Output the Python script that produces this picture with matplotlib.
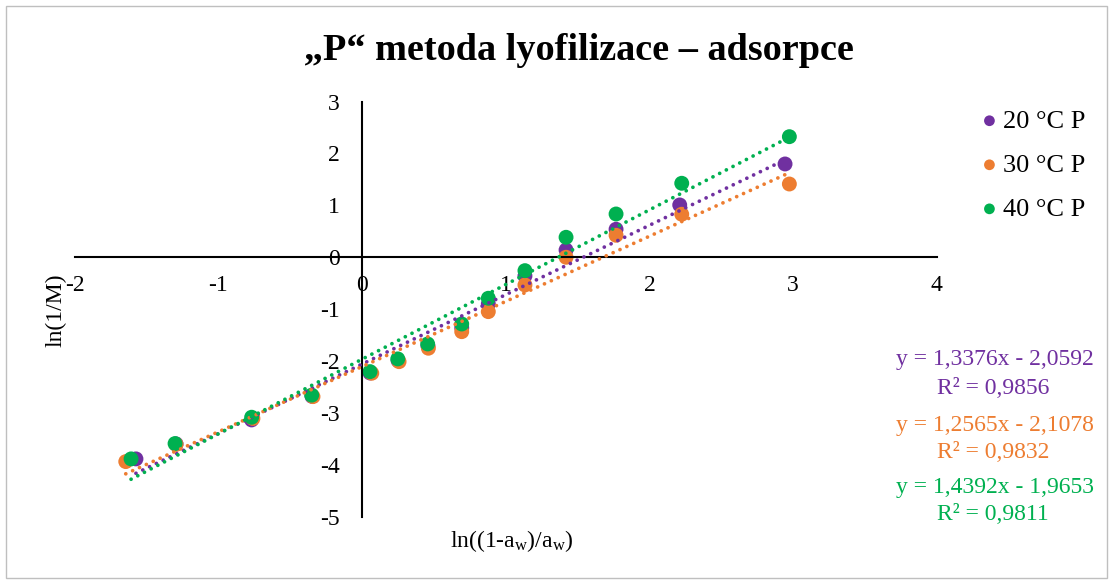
import matplotlib
matplotlib.use("Agg")
import matplotlib.pyplot as plt
from matplotlib.patches import Rectangle
import numpy as np

plt.rcParams['font.family'] = ['Liberation Serif', 'DejaVu Serif']
plt.rcParams['mathtext.fontset'] = 'custom'
plt.rcParams['mathtext.rm'] = 'Liberation Serif'
plt.rcParams['mathtext.it'] = 'Liberation Serif:italic'

# ---- data ----
series_names = ["20 °C P", "30 °C P", "40 °C P"]
colors = ["#7030A0", "#ED7D31", "#00B050"]

x20 = [-1.573, -1.294, -0.768, -0.348, 0.056, 0.251, 0.459, 0.694, 0.879, 1.134, 1.420, 1.768, 2.211, 2.944]
y20 = [-3.886, -3.597, -3.135, -2.680, -2.230, -1.990, -1.710, -1.360, -0.900, -0.360, 0.140, 0.540, 1.008, 1.798]

x30 = [-1.644, -1.294, -0.759, -0.341, 0.068, 0.258, 0.462, 0.694, 0.879, 1.134, 1.420, 1.768, 2.225, 2.974]
y30 = [-3.938, -3.607, -3.106, -2.686, -2.235, -2.012, -1.753, -1.434, -1.048, -0.534, 0.000, 0.424, 0.829, 1.412]

x40 = [-1.607, -1.301, -0.768, -0.350, 0.056, 0.249, 0.457, 0.694, 0.879, 1.134, 1.420, 1.768, 2.225, 2.974]
y40 = [-3.886, -3.590, -3.083, -2.657, -2.204, -1.959, -1.671, -1.286, -0.790, -0.258, 0.385, 0.834, 1.426, 2.324]

slopes = [1.3376, 1.2565, 1.4392]
intercepts = [-2.0592, -2.1078, -1.9653]
eq_texts = ["y = 1,3376x - 2,0592", "y = 1,2565x - 2,1078", "y = 1,4392x - 1,9653"]
r2_texts = ["R² = 0,9856", "R² = 0,9832", "R² = 0,9811"]

x_ticks = [-2, -1, 0, 1, 2, 3, 4]
y_ticks = [-5, -4, -3, -2, -1, 0, 1, 2, 3]

title = "\u201eP\u201c metoda lyofilizace \u2013 adsorpce"

# ---- figure ----
W, H = 1111, 581
fig = plt.figure(figsize=(W / 100, H / 100), dpi=100)
fig.patches.append(Rectangle((5.5 / W, 3 / H), (1107 - 5.5) / W, (575.5 - 3) / H,
                             transform=fig.transFigure, fill=False,
                             edgecolor="#BFBFBF", linewidth=1.0))

ax = fig.add_axes([74.6 / W, 1 - 516.7 / H, 862.2 / W, 415.1 / H])
ax.set_xlim(-2, 4)
ax.set_ylim(-5, 3)

xs = [x20, x30, x40]
ys = [y20, y30, y40]
handles = []
for i in range(3):
    h = ax.scatter(xs[i], ys[i], s=115, color=colors[i], zorder=2,
                   edgecolors='none', label=series_names[i])
    handles.append(h)
for i in range(3):
    xx = np.linspace(min(xs[i]), max(xs[i]), 50)
    ax.plot(xx, slopes[i] * xx + intercepts[i], color=colors[i], linewidth=2.7,
            linestyle=(0, (0.01, 2.0)), dash_capstyle='round', zorder=3)

for s in ['top', 'right']:
    ax.spines[s].set_visible(False)
ax.spines['left'].set_position(('data', 0))
ax.spines['bottom'].set_position(('data', 0))
for s in ['left', 'bottom']:
    ax.spines[s].set_linewidth(1.5)
    ax.spines[s].set_color('black')
ax.set_xticks(x_ticks)
ax.set_yticks(y_ticks)
ax.set_xticklabels([str(t) for t in x_ticks])
ax.set_yticklabels([str(t) for t in y_ticks])
ax.tick_params(axis='x', length=0, pad=13, labelsize=17)
ax.tick_params(axis='y', length=0, pad=16, labelsize=17)
ax.set_facecolor('none')

fig.text(579 / W, 1 - 50 / H, title, ha='center', va='center',
         fontsize=27.5, fontweight='bold')
fig.text(56 / W, 1 - 310 / H, "ln(1/M)", rotation=90, ha='center', va='center',
         fontsize=17)
fig.text(512 / W, 1 - 541 / H, r"ln((1-a$_\mathrm{w}$)/a$_\mathrm{w}$)",
         ha='center', va='center', fontsize=17)

eq_y = [360, 426, 488]
r2_y = [388, 452, 515]
for i in range(3):
    fig.text(995 / W, 1 - eq_y[i] / H, eq_texts[i], ha='center', va='center',
             fontsize=17, color=colors[i])
    fig.text(993 / W, 1 - r2_y[i] / H, r2_texts[i], ha='center', va='center',
             fontsize=17, color=colors[i])

fig.legend(handles=handles, loc='upper left', bbox_to_anchor=(967 / W, 1 - 96 / H),
           frameon=False, fontsize=19, markerscale=0.72, handlelength=0.7,
           handletextpad=0.15, labelspacing=0.78, borderpad=0)

fig.savefig("out.png", dpi=100)
